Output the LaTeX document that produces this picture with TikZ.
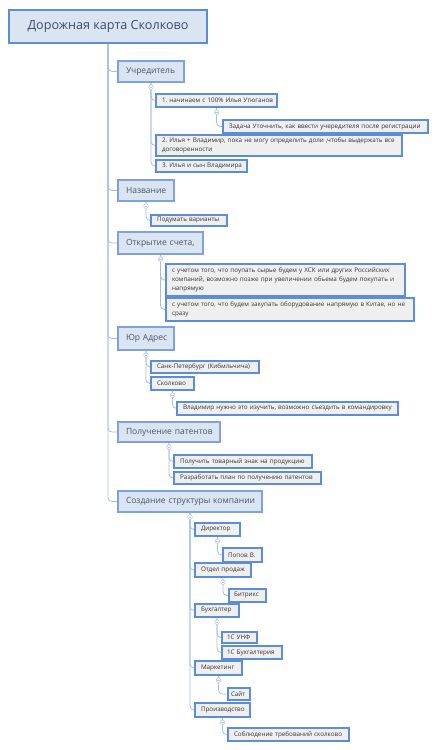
\documentclass[tikz,border=0pt]{standalone}
\usepackage{fontspec}
\setmainfont{Open Sans}
\usetikzlibrary{backgrounds}
\frenchspacing
\definecolor{bord}{HTML}{5B8DD9}
\definecolor{bordA}{HTML}{7DA2DC}
\definecolor{fillA}{HTML}{DBE5F1}
\definecolor{fillB}{HTML}{EFEFEF}
\definecolor{txtR}{HTML}{3A4D6E}
\definecolor{txtA}{HTML}{46566F}
\definecolor{txtB}{HTML}{333333}
\definecolor{conncol}{HTML}{A3C0E8}
\definecolor{collcol}{HTML}{B9C9E2}
\tikzset{
  rootbox/.style={draw=bord, line width=2pt, fill=fillA, text=txtR, inner sep=0pt,
    font=\fontsize{12.6}{15}\selectfont},
  lvlA/.style={draw=bordA, line width=1.2pt, fill=fillA, text=txtA, inner sep=0pt,
    font=\fontsize{8.5}{10}\selectfont\frenchspacing, align=left},
  lvlB/.style={draw=bord, line width=1.5pt, fill=fillB, text=txtB, inner sep=0pt,
    font=\fontsize{6.3}{9}\selectfont\frenchspacing, align=left},
  conn/.style={draw=conncol, line width=0.8pt, rounded corners=4pt},
  collapse/.style={circle, draw=collcol, fill=white, line width=0.6pt, minimum size=4.6pt, inner sep=0pt,
    path picture={\draw[collcol, line width=0.5pt] ([xshift=-1.2pt]path picture bounding box.center) -- ([xshift=1.2pt]path picture bounding box.center);}},
}
% style, name, pad, x1, y1, x2, y2, text
\newcommand\mybox[8]{%
  \pgfmathsetmacro\bcx{(#4+#6)/2}\pgfmathsetmacro\bcy{(#5+#7)/2}%
  \pgfmathsetmacro\bw{#6-#4}\pgfmathsetmacro\bh{#7-#5}\pgfmathsetmacro\tw{#6-#4-2*#3}%
  \node[#1, minimum width=\bw pt, minimum height=\bh pt, text width=\tw pt] (#2) at (\bcx,\bcy) {#8};}
\begin{document}
\begin{tikzpicture}[x=1pt,y=-1pt]
\useasboundingbox (0,0) rectangle (435,750);
% root
\node[rootbox, minimum width=198pt, minimum height=33pt] (root) at (108,26.5) {Дорожная карта Сколково};
% level A
\mybox{lvlA}{u}{8}{118}{61}{184}{82}{\mbox{Учредитель}}
\mybox{lvlA}{n}{8}{118}{180}{174}{201}{\mbox{Название}}
\mybox{lvlA}{o}{8}{118}{232}{203}{254}{\mbox{Открытие счета,}}
\mybox{lvlA}{j}{8}{118}{327}{174}{350}{\mbox{Юр Адрес}}
\mybox{lvlA}{p}{8}{118}{422}{220}{442}{\mbox{Получение патентов}}
\mybox{lvlA}{s}{8}{118}{491}{262}{512}{\mbox{Создание структуры компании}}
% level B
\mybox{lvlB}{u1}{6}{156}{94}{277}{107}{\mbox{1. начинаем с 100\% Илья Утюганов}}
\mybox{lvlB}{u1a}{6}{223}{120}{428}{133}{\mbox{Задача Уточнить, как ввести учередителя после регистрации}}
\mybox{lvlB}{u2}{6}{156}{135}{402}{156}{\mbox{2. Илья + Владимир, пока не могу определить доли ,чтобы выдержать все}\\\mbox{договоренности}}
\mybox{lvlB}{u3}{6}{156}{160}{247}{172}{\mbox{3. Илья и сын Владимира}}
\mybox{lvlB}{n1}{6}{151}{215}{227}{226}{\mbox{Подумать варианты}}
\mybox{lvlB}{o1}{6}{166}{264}{405}{296}{\mbox{с учетом того, что поупать сырье будем у ХСК или других Российских}\\\mbox{компаний, возможно позже при увеличении обьема будем покупать и}\\\mbox{напрямую}}
\mybox{lvlB}{o2}{6}{166}{298}{414}{321}{\mbox{с учетом того, что будем закупать оборудование напрямую в Китае, но не}\\\mbox{сразу}}
\mybox{lvlB}{j1}{6}{151}{361}{259}{373}{\mbox{Санк-Петербург (Кибмльчича)}}
\mybox{lvlB}{j2}{6}{151}{377}{194}{390}{\mbox{Сколково}}
\mybox{lvlB}{j2a}{6}{177}{402}{398}{415}{\mbox{Владимир нужно это изучить, возможно съездить в командировку}}
\mybox{lvlB}{p1}{6}{174}{455}{312}{468}{\mbox{Получить товарный знак на продукцию}}
\mybox{lvlB}{p2}{6}{174}{472}{321}{484}{\mbox{Разработать план по получению патентов}}
\mybox{lvlB}{s1}{6}{195}{523}{240}{536}{\mbox{Директор}}
\mybox{lvlB}{s1a}{5}{223}{548}{262}{562}{\mbox{Попов В.}}
\mybox{lvlB}{s2}{6}{195}{563}{251}{577}{\mbox{Отдел продаж}}
\mybox{lvlB}{s2a}{5}{229}{589}{266}{602}{\mbox{Битрикс}}
\mybox{lvlB}{s3}{6}{195}{604}{239}{617}{\mbox{Бухгалтер}}
\mybox{lvlB}{s3a}{5}{222}{632}{257}{643}{\mbox{1С УНФ}}
\mybox{lvlB}{s3b}{5}{222}{646}{282}{659}{\mbox{1С Бухгалтерия}}
\mybox{lvlB}{s4}{6}{195}{661}{242}{675}{\mbox{Маркетинг}}
\mybox{lvlB}{s4a}{3}{228}{688}{250}{700}{\mbox{Сайт}}
\mybox{lvlB}{s5}{6}{195}{703}{250}{717}{\mbox{Производство}}
\mybox{lvlB}{s5a}{6}{228}{728}{349}{741}{\mbox{Соблюдение требований сколково}}
% collapse points
\foreach \pn in {u,n,o,j,p,s,u1,j2,s1,s2,s3,s4,s5}{
  \coordinate (c\pn) at ([yshift=-4.5pt]\pn.south);
}
% connectors
\begin{scope}[on background layer]
\fill[white] (0,0) rectangle (435,750);
\foreach \ch in {u,n,o,j,p,s}{ \draw[conn] (root.south) |- (\ch.west); }
\foreach \pn/\ch in {u/u1,u/u2,u/u3,u1/u1a,n/n1,o/o1,o/o2,j/j1,j/j2,j2/j2a,p/p1,p/p2,
  s/s1,s/s2,s/s3,s/s4,s/s5,s1/s1a,s2/s2a,s3/s3a,s3/s3b,s4/s4a,s5/s5a}{
  \draw[conn] (\pn.south) -- (c\pn) |- (\ch.west);
}
\end{scope}
\foreach \pn in {u,n,o,j,p,s,u1,j2,s1,s2,s3,s4,s5}{
  \node[collapse] (k\pn) at (c\pn) {};
}
\end{tikzpicture}
\end{document}
